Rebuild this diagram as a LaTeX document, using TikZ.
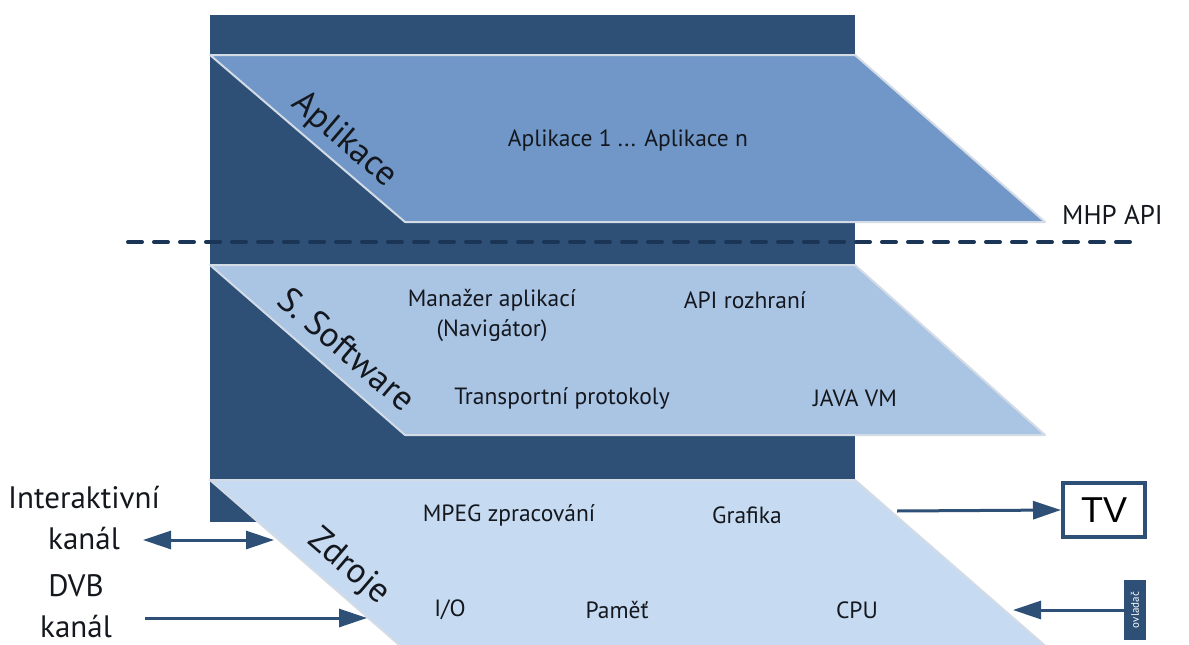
\documentclass[tikz,border=0pt]{standalone}
\usepackage{fontspec}
\setmainfont{PT Sans}
\newfontfamily\tvfont{Liberation Sans}
\usetikzlibrary{arrows.meta}
\definecolor{navy}{HTML}{2E5077}
\definecolor{dashnavy}{HTML}{1B3556}
\definecolor{layerA}{HTML}{7097C7}
\definecolor{layerB}{HTML}{AAC4E4}
\definecolor{layerC}{HTML}{C6DAF1}
\definecolor{edgegray}{HTML}{D3DBE6}
\definecolor{ink}{HTML}{14181E}
\tikzset{
  layer/.style={draw=edgegray, line width=2pt, line join=round},
  tag/.style={font=\fontsize{35}{35}\selectfont, text=ink, rotate=-40.6, inner sep=0pt},
  item/.style={font=\fontsize{23.5}{30}\selectfont, text=ink, align=center, inner sep=0pt},
  side/.style={font=\fontsize{31}{41}\selectfont, text=ink, align=center, inner sep=0pt},
  head/.tip={Triangle[length=28pt,width=18pt]},
  link/.style={navy, line width=3pt, -head},
  dlink/.style={navy, line width=3pt, head-head},
}
\begin{document}
\begin{tikzpicture}[x=1pt,y=-1pt]
\useasboundingbox (0,0) rectangle (1189,645);
% back block
\fill[navy] (210,15) rectangle (855,522);
% layers
\filldraw[layer, fill=layerA] (210,55) -- (855,55) -- (1045,222) -- (405,222) -- cycle;
\filldraw[layer, fill=layerB] (210,265) -- (855,265) -- (1045,435) -- (405,435) -- cycle;
\filldraw[layer, fill=layerC] (210,480) -- (855,480) -- (1050,650) -- (405,650) -- cycle;
% API boundary
\draw[dashnavy, line width=4pt, dash pattern=on 14pt off 12pt, line cap=round] (128,242) -- (1140,242);
% layer titles
\node[tag] (tapp) at (344,140) {Aplikace};
\node[tag] (tsw) at (347,349) {S. Software};
\node[tag] (tres) at (348,567) {Zdroje};
% layer contents
\node[item] (apps) at (628,140) {Aplikace 1 ... Aplikace n};
\node[anchor=west, font=\fontsize{27}{27}\selectfont, text=ink, inner sep=0pt] (mhp) at (1062,215) {MHP API};
\node[item] (mgr) at (492,315) {Manažer aplikací\\(Navigátor)};
\node[item] (api) at (745,300) {API rozhraní};
\node[item] (tp) at (562,398) {Transportní protokoly};
\node[item] (jvm) at (855,398) {JAVA VM};
\node[item] (mpeg) at (509,515) {MPEG zpracování};
\node[item] (gfx) at (747,515) {Grafika};
\node[item] (io) at (450,610) {I/O};
\node[item] (mem) at (617,610) {Paměť};
\node[item] (cpu) at (857,610) {CPU};
% external parts
\node[side] (ich) at (84,518) {Interaktivní\\kanál};
\node[side] (dvb) at (76,606) {DVB\\kanál};
\node[draw=navy, line width=4pt, fill=white, minimum width=82pt, minimum height=54pt, inner sep=0pt,
      font=\tvfont\fontsize{36}{36}\selectfont] (tv) at (1104,510) {TV};
\node[fill=navy, text=white, minimum width=22pt, minimum height=60pt, inner sep=0pt] (rc) at (1135,610) {};
\node[rotate=90, text=white, font=\fontsize{11}{11}\selectfont, inner sep=0pt] at (rc) {ovladač};
% connectors
\coordinate (ichL) at (143,540);
\coordinate (ichR) at (274,540);
\coordinate (dvbL) at (145,618);
\coordinate (dvbR) at (367,618);
\coordinate (gfxR) at (897,511);
\coordinate (cpuR) at (1013,610);
\draw[dlink] (ichL) -- (ichR);
\draw[link] (dvbL) -- (dvbR);
\draw[link] (gfxR) -- (tv.west);
\draw[link] (rc.west) -- (cpuR);
\end{tikzpicture}
\end{document}
